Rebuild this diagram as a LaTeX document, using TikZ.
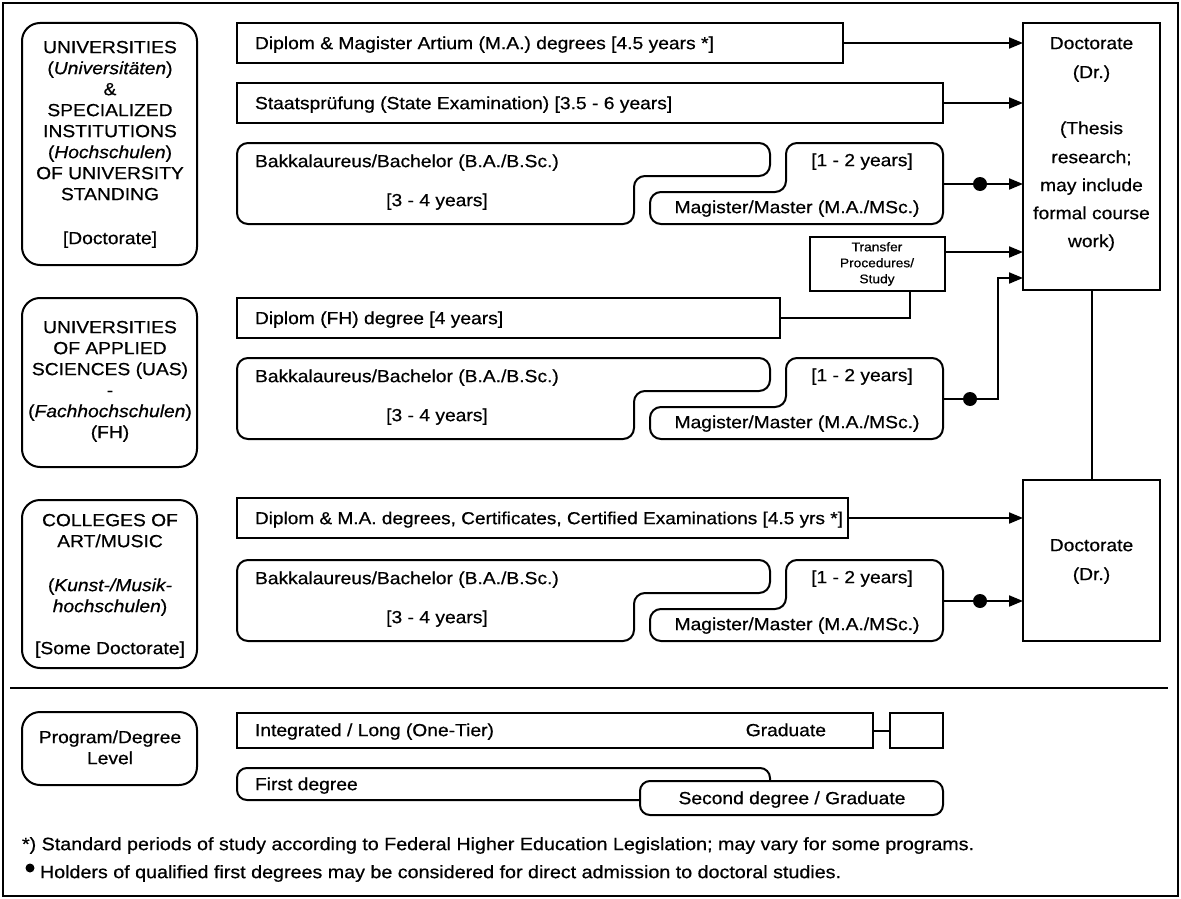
\documentclass[tikz,border=0pt]{standalone}
\usepackage{fontspec}
\setmainfont{Liberation Sans}[FakeStretch=1.1,FakeBold=0.6]
\usetikzlibrary{arrows.meta}
\newcommand\fsz{\fontsize{17.5}{21}\selectfont}
\newcommand\bmpair[2]{%
\pgfmathsetmacro\ta{#1}\pgfmathsetmacro\tb{#1+33}\pgfmathsetmacro\tc{#1+49}\pgfmathsetmacro\td{#1+81}%
\draw[shp] (500,\ta) -- (770,\ta) -- (770,\tb) -- (634,\tb) -- (634,\td) -- (237,\td) -- (237,\ta) -- (500,\ta);
\draw[shp] (900,\ta) -- (943,\ta) -- (943,\td) -- (650,\td) -- (650,\tc) -- (786,\tc) -- (786,\ta) -- (900,\ta);
\node[lab] (ba#2) at (255,{#1+18}) {Bakkalaureus/Bachelor (B.A./B.Sc.)};
\node[clab] (by#2) at (437,{#1+57}) {[3 - 4 years]};
\node[clab] (my#2) at (862,{#1+17}) {[1 - 2 years]};
\node[clab] (ma#2) at (797,{#1+64}) {Magister/Master (M.A./MSc.)};
\coordinate (m#2) at (943,{#1+41});
}
\begin{document}
\begin{tikzpicture}[x=1pt,y=-1pt,
  every node/.style={inner sep=0pt, outer sep=0pt},
  lab/.style={font=\fsz, anchor=mid west, yshift=-3.5pt},
  clab/.style={font=\fsz, anchor=mid, yshift=-3.5pt},
  box/.style={draw, line width=2pt, fill=white, anchor=north west},
  inst/.style={draw, line width=2pt, rounded corners=18pt, anchor=north west, minimum width=175pt},
  shp/.style={line width=2pt, rounded corners=11pt},
  arr/.style={line width=2pt, -{Triangle[length=14pt,width=11pt]}},
  ln/.style={line width=2pt},
  dotn/.style={circle, fill=black, minimum size=14pt}]
\useasboundingbox (0,0) rectangle (1181,899);
\draw[line width=2.5pt] (3,3) rectangle (1178,896);

% institution boxes
\node[inst, minimum height=242pt] (u1) at (22,23) {};
\foreach \t/\y in {{UNIVERSITIES}/47, {(\textit{Universitäten})}/68, {\&}/89, {SPECIALIZED}/110, {INSTITUTIONS}/131, {(\textit{Hochschulen})}/152, {OF UNIVERSITY}/173, {STANDING}/194, {[Doctorate]}/238}
  \node[clab] at (110,\y) {\t};
\node[inst, minimum height=169pt] (u2) at (22,298) {};
\foreach \t/\y in {{UNIVERSITIES}/327, {OF APPLIED}/348, {SCIENCES (UAS)}/369, {-}/390, {(\textit{Fachhochschulen})}/411, {(FH)}/432}
  \node[clab] at (110,\y) {\t};
\node[inst, minimum height=168pt] (u3) at (22,500) {};
\foreach \t/\y in {{COLLEGES OF}/520, {ART/MUSIC}/541, {(\textit{Kunst-/Musik-}}/585, {\textit{hochschulen})}/606, {[Some Doctorate]}/648}
  \node[clab] at (110,\y) {\t};

% doctorate boxes
\node[box, minimum width=137pt, minimum height=267pt] (doc1) at (1023,23) {};
\foreach \t/\y in {{Doctorate}/43, {(Dr.)}/72, {(Thesis}/128, {research;}/157, {may include}/185, {formal course}/213, {work)}/241}
  \node[clab] at (1091.5,\y) {\t};
\node[box, minimum width=137pt, minimum height=161pt] (doc2) at (1023,480) {};
\node[clab] at (1091.5,545) {Doctorate};
\node[clab] at (1091.5,574) {(Dr.)};
\draw[ln] (doc1.south) -- (doc2.north);

% university rows
\node[box, minimum width=606pt, minimum height=40pt] (r1) at (237,23) {};
\node[lab] at (255,43) {Diplom \& Magister Artium (M.A.) degrees [4.5 years *]};
\draw[arr] (r1.east) -- (r1.east -| doc1.west);
\node[box, minimum width=706pt, minimum height=40pt] (r2) at (237,83) {};
\node[lab] at (255,103) {Staatsprüfung (State Examination) [3.5 - 6 years]};
\draw[arr] (r2.east) -- (r2.east -| doc1.west);
\bmpair{143}{1}
\draw[arr] (m1) -- (m1 -| doc1.west);
\node[dotn] (dot1) at (980,184) {};

% transfer
\node[box, anchor=center, minimum width=135pt, minimum height=54pt, align=center,
  font=\fontsize{12.5}{16}\selectfont] (tr) at (877,264) {Transfer\\Procedures/\\Study};
\coordinate (t1) at ([yshift=12pt]tr.east);
\draw[arr] (t1) -- (t1 -| doc1.west);

% UAS rows
\node[box, minimum width=543pt, minimum height=40pt] (fh) at (237,298) {};
\node[lab] at (255,318) {Diplom (FH) degree [4 years]};
\draw[ln] (fh.east) -| ([xshift=33pt]tr.south);
\bmpair{358}{2}
\coordinate (j2) at (998,278);
\draw[arr] (m2) -| (j2) -- (j2 -| doc1.west);
\node[dotn] (dot2) at (970,399) {};

% colleges rows
\node[box, minimum width=611pt, minimum height=40pt] (c1) at (237,498) {};
\node[lab, font=\fontsize{17.3}{21}\selectfont] at (255,518) {Diplom \& M.A. degrees, Certificates, Certified Examinations [4.5 yrs *]};
\draw[arr] (c1.east) -- (c1.east -| doc2.west);
\bmpair{560}{3}
\draw[arr] (m3) -- (m3 -| doc2.west);
\node[dotn] (dot3) at (980,601) {};

% divider
\draw[line width=1.5pt] (10,688) -- (1168,688);

% legend
\node[inst, minimum height=73pt] (lg) at (22,712) {};
\node[clab] at (110,737) {Program/Degree};
\node[clab] at (110,758) {Level};
\node[box, minimum width=636pt, minimum height=35pt] (ig) at (237,713) {};
\node[lab] at (255,730) {Integrated / Long (One-Tier)};
\node[clab, anchor=mid east] at (826,730) {Graduate};
\node[box, minimum width=53pt, minimum height=35pt] (sb) at (890,713) {};
\draw[ln] (ig.east) -- (sb.west);
\node[box, rounded corners=10pt, minimum width=533pt, minimum height=32pt] (fd) at (237,768) {};
\node[lab] at (255,784) {First degree};
\node[box, rounded corners=10pt, minimum width=303pt, minimum height=34pt] (sd) at (640,781) {};
\node[clab] at (792,798) {Second degree / Graduate};

% footnotes
\node[lab, font=\fontsize{17.9}{21}\selectfont] (fn1) at (22,844) {*) Standard periods of study according to Federal Higher Education Legislation; may vary for some programs.};
\node[circle, fill=black, minimum size=9pt] (fdot) at (30,868) {};
\node[lab, font=\fontsize{17.9}{21}\selectfont] (fn2) at (40,872) {Holders of qualified first degrees may be considered for direct admission to doctoral studies.};
\end{tikzpicture}
\end{document}
